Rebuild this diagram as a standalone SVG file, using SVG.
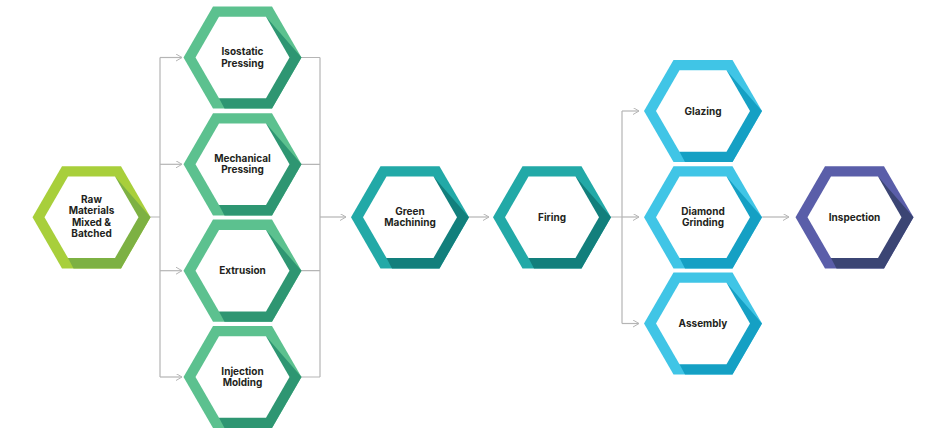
<svg xmlns="http://www.w3.org/2000/svg" xmlns:xlink="http://www.w3.org/1999/xlink" width="945" height="434" viewBox="0 0 945 434">
<defs>
<style>
.t{font-family:Inter,"Open Sans","Liberation Sans",sans-serif;font-weight:700;font-size:10px;fill:#231f20;text-anchor:middle}
.c{fill:none;stroke:#b5b5b5;stroke-width:1.2}
.in{fill:#fff}
.lime .l{fill:#a8cf3b}.lime .d{fill:#7db143}
.mint .l{fill:#5cc18f}.mint .d{fill:#2e9672}
.teal .l{fill:#22a9a7}.teal .d{fill:#127f7c}
.sky .l{fill:#40c5e6}.sky .d{fill:#15a0c4}
.ind .l{fill:#5a5ea9}.ind .d{fill:#3b4574}
</style>
<polygon id="ho" points="-59,0 -29.5,-51.1 29.5,-51.1 59,0 29.5,51.1 -29.5,51.1"/>
<polygon id="hd" points="23.5,-40.7 59,0 29.5,51.1 -18,51.1 -23.5,40.7 0,0"/>
<polygon id="hi" points="-47,0 -23.5,-40.7 23.5,-40.7 47,0 23.5,40.7 -23.5,40.7"/>
<marker id="ar" markerWidth="8" markerHeight="8" refX="6" refY="3.5" orient="auto" markerUnits="userSpaceOnUse">
<path d="M0,0 L6,3.5 L0,7" fill="none" stroke="#b5b5b5" stroke-width="1"/>
</marker>
</defs>
<rect width="945" height="434" fill="#fff"/>
<g id="connectors">
<path class="c" d="M150,217 H160 M160,57.5 V377"/>
<path class="c" d="M160,57.5 H182" marker-end="url(#ar)"/>
<path class="c" d="M160,164.3 H182" marker-end="url(#ar)"/>
<path class="c" d="M160,270.7 H182" marker-end="url(#ar)"/>
<path class="c" d="M160,377 H182" marker-end="url(#ar)"/>
<path class="c" d="M301,57.5 H320 M301,164.3 H320 M301,270.7 H320 M301,377 H320 M320,57.5 V377"/>
<path class="c" d="M320,217 H346" marker-end="url(#ar)"/>
<path class="c" d="M469,217 H489" marker-end="url(#ar)"/>
<path class="c" d="M611,217 H622 M622,111 V323.5"/>
<path class="c" d="M622,111 H639" marker-end="url(#ar)"/>
<path class="c" d="M622,217 H639" marker-end="url(#ar)"/>
<path class="c" d="M622,323.5 H639" marker-end="url(#ar)"/>
<path class="c" d="M762,217 H789" marker-end="url(#ar)"/>
</g>
<g id="raw" class="lime" transform="translate(91.5,217.3)">
<use xlink:href="#ho" class="l"/><use xlink:href="#hd" class="d"/><use xlink:href="#hi" class="in"/>
<text class="t"><tspan x="0" y="-14.5">Raw</tspan><tspan x="0" y="-3">Materials</tspan><tspan x="0" y="8.5">Mixed &amp;</tspan><tspan x="0" y="20">Batched</tspan></text>
</g>
<g id="isostatic" class="mint" transform="translate(242.5,57.5)">
<use xlink:href="#ho" class="l"/><use xlink:href="#hd" class="d"/><use xlink:href="#hi" class="in"/>
<text class="t"><tspan x="0" y="-2.5">Isostatic</tspan><tspan x="0" y="9">Pressing</tspan></text>
</g>
<g id="mechanical" class="mint" transform="translate(242.5,164.3)">
<use xlink:href="#ho" class="l"/><use xlink:href="#hd" class="d"/><use xlink:href="#hi" class="in"/>
<text class="t"><tspan x="0" y="-2.5">Mechanical</tspan><tspan x="0" y="9">Pressing</tspan></text>
</g>
<g id="extrusion" class="mint" transform="translate(242.5,270.7)">
<use xlink:href="#ho" class="l"/><use xlink:href="#hd" class="d"/><use xlink:href="#hi" class="in"/>
<text class="t" x="0" y="3.5">Extrusion</text>
</g>
<g id="injection" class="mint" transform="translate(242.5,377)">
<use xlink:href="#ho" class="l"/><use xlink:href="#hd" class="d"/><use xlink:href="#hi" class="in"/>
<text class="t"><tspan x="0" y="-2.5">Injection</tspan><tspan x="0" y="9">Molding</tspan></text>
</g>
<g id="green" class="teal" transform="translate(410,217.3)">
<use xlink:href="#ho" class="l"/><use xlink:href="#hd" class="d"/><use xlink:href="#hi" class="in"/>
<text class="t"><tspan x="0" y="-2.5">Green</tspan><tspan x="0" y="9">Machining</tspan></text>
</g>
<g id="firing" class="teal" transform="translate(552,217.3)">
<use xlink:href="#ho" class="l"/><use xlink:href="#hd" class="d"/><use xlink:href="#hi" class="in"/>
<text class="t" x="0" y="3.5">Firing</text>
</g>
<g id="glazing" class="sky" transform="translate(703,111)">
<use xlink:href="#ho" class="l"/><use xlink:href="#hd" class="d"/><use xlink:href="#hi" class="in"/>
<text class="t" x="0" y="3.5">Glazing</text>
</g>
<g id="diamond" class="sky" transform="translate(703,217.3)">
<use xlink:href="#ho" class="l"/><use xlink:href="#hd" class="d"/><use xlink:href="#hi" class="in"/>
<text class="t"><tspan x="0" y="-2.5">Diamond</tspan><tspan x="0" y="9">Grinding</tspan></text>
</g>
<g id="assembly" class="sky" transform="translate(703,323.5)">
<use xlink:href="#ho" class="l"/><use xlink:href="#hd" class="d"/><use xlink:href="#hi" class="in"/>
<text class="t" x="0" y="3.5">Assembly</text>
</g>
<g id="inspection" class="ind" transform="translate(854.5,217.3)">
<use xlink:href="#ho" class="l"/><use xlink:href="#hd" class="d"/><use xlink:href="#hi" class="in"/>
<text class="t" x="0" y="3.5">Inspection</text>
</g>
</svg>
